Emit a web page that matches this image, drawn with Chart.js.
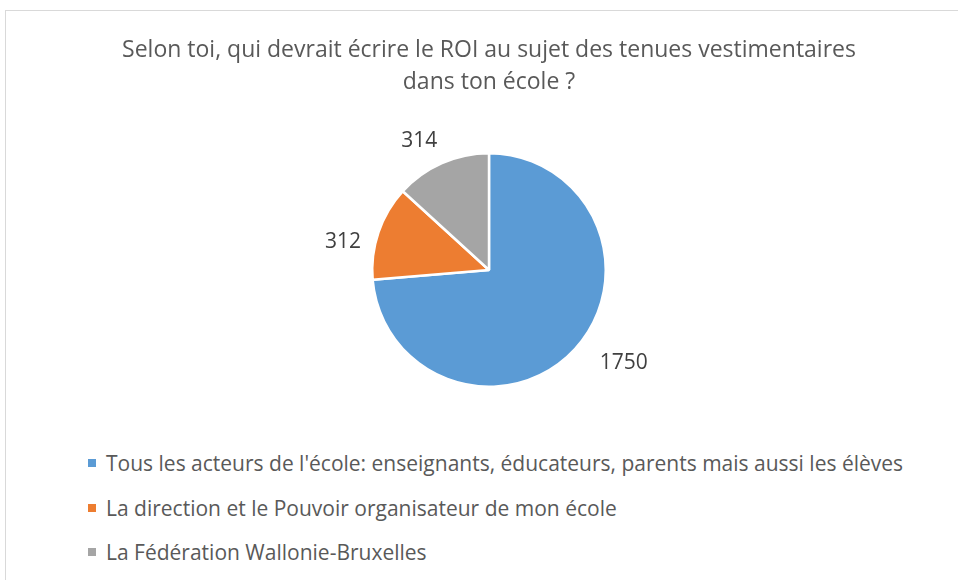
<!DOCTYPE html>
<html>
<head>
<meta charset="utf-8">
<script src="https://cdn.jsdelivr.net/npm/chart.js@4.4.1/dist/chart.umd.min.js"></script>
<style>
  html, body { margin: 0; padding: 0; background: #fff; }
  #wrap { position: relative; width: 958px; height: 580px; overflow: hidden; }
  #frame { position: absolute; left: 5px; top: 10px; width: 1000px; height: 700px; border: 1px solid #d9d9d9; box-sizing: border-box; }
  #chartBox { position: absolute; left: 0; top: 0; width: 958px; height: 420px; }
  #legend { position: absolute; left: 88px; top: 449px; margin: 0; padding: 0; list-style: none;
            font-family: "Open Sans", sans-serif; font-size: 21px; color: #595959; }
  #legend li { height: 44.5px; display: flex; align-items: flex-start; line-height: 28px; white-space: nowrap; }
  #legend span.box { display: inline-block; width: 8px; height: 8px; margin: 10px 10px 0 0; flex: none; }
</style>
</head>
<body>
<div id="wrap">
  <div id="frame"></div>
  <div id="chartBox"><canvas id="pie"></canvas></div>
  <ul id="legend"></ul>
</div>
<script>
// Données du graphique
const categories = [
    "Tous les acteurs de l'école: enseignants, éducateurs, parents mais aussi les élèves",
    "La direction et le Pouvoir organisateur de mon école",
    "La Fédération Wallonie-Bruxelles"
];
const votes = [1750, 312, 314];
const colors = ['#5B9BD5', '#ED7D31', '#A5A5A5'];
const titleLines = ["Selon toi, qui devrait écrire le ROI au sujet des tenues vestimentaires", "dans ton école ?"];

// Étiquettes de valeurs à l'extérieur des parts (placement "ajustement optimal" approché)
const outsideLabels = {
    id: 'outsideLabels',
    afterDatasetsDraw(chart) {
        const ctx = chart.ctx;
        const meta = chart.getDatasetMeta(0);
        ctx.save();
        ctx.font = '21px "Open Sans", sans-serif';
        ctx.fillStyle = '#404040';
        ctx.textAlign = 'center';
        ctx.textBaseline = 'middle';
        meta.data.forEach((arc, i) => {
            let mid = (arc.startAngle + arc.endAngle) / 2;
            const c0 = Math.cos(mid);
            // on rapproche un peu l'étiquette de l'horizontale
            const tilt = (8 * Math.PI / 180) * Math.abs(c0);
            mid += (Math.sin(mid) * c0 > 0 ? -tilt : tilt);
            const cos = Math.cos(mid), sin = Math.sin(mid);
            const text = String(chart.data.datasets[0].data[i]);
            const w = ctx.measureText(text).width;
            const dist = arc.outerRadius + 28 + Math.max(0, w - 36) * 0.9;
            const x = arc.x + dist * cos + (w / 2 - 14) * Math.sign(cos);
            const y = arc.y + dist * sin;
            ctx.fillText(text, x, y);
        });
        ctx.restore();
    }
};

const ctx = document.getElementById('pie').getContext('2d');
const pieChart = new Chart(ctx, {
    type: 'pie',
    data: {
        labels: categories,
        datasets: [{
            data: votes,
            backgroundColor: colors,
            borderColor: '#ffffff',
            borderWidth: 2.5
        }]
    },
    options: {
        responsive: true,
        maintainAspectRatio: false,
        animation: false,
        layout: { padding: { left: 20, right: 0, top: 0, bottom: 32 } },
        plugins: {
            legend: { display: false },
            tooltip: { enabled: false },
            title: {
                display: true,
                text: titleLines,
                color: '#595959',
                font: { family: '"Open Sans", sans-serif', size: 23, weight: 'normal', lineHeight: 32 / 23 },
                padding: { top: 34, bottom: 54 }
            }
        }
    },
    plugins: [outsideLabels]
});

// Légende HTML alignée à gauche
const legendEl = document.getElementById('legend');
categories.forEach((label, i) => {
    const li = document.createElement('li');
    li.innerHTML = `<span class="box" style="background:${colors[i]}"></span>${label}`;
    legendEl.appendChild(li);
});
</script>
</body>
</html>
